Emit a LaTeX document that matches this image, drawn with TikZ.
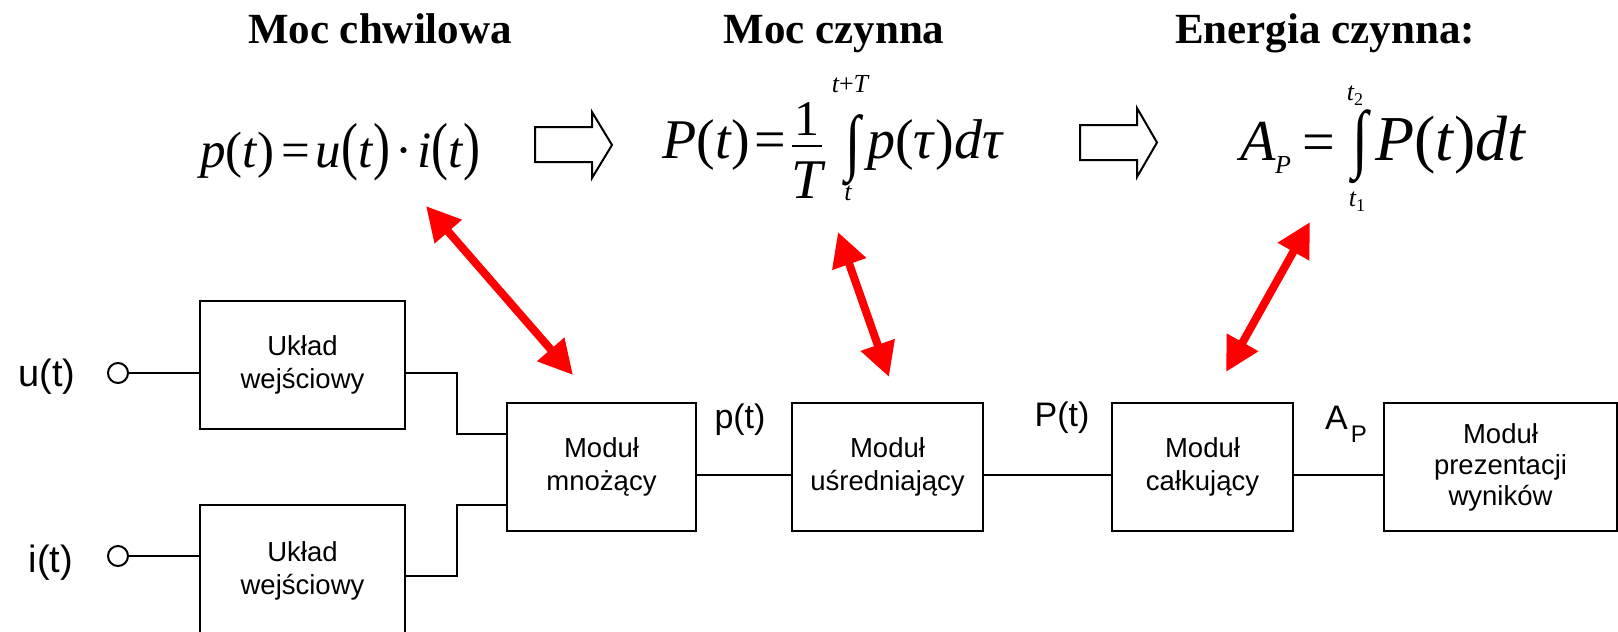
\documentclass[tikz,border=0pt]{standalone}
\usepackage{fontspec}
\usepackage{graphicx}
\setmainfont{Liberation Serif}
\newfontfamily\arial{Liberation Sans}
\usetikzlibrary{arrows.meta}
\newcommand\setfs[1]{\fontsize{#1}{#1}\selectfont}
\newcommand\vstretch[2]{\scalebox{1}[#1]{#2}}
\begin{document}
\begin{tikzpicture}[x=1pt,y=-1pt,
  blk/.style={draw,line width=2pt,inner sep=0pt,align=center,font=\arial\fontsize{27.5}{33}\selectfont},
  wire/.style={line width=2pt},
  term/.style={circle,draw,line width=2pt,minimum size=20pt,inner sep=0pt,fill=white},
  sig/.style={font=\arial\setfs{34},inner sep=0pt},
  ttl/.style={font=\bfseries\setfs{43},inner sep=0pt,anchor=base},
  eq/.style={inner sep=0pt,anchor=base west},
  lim/.style={inner sep=0pt,font=\itshape\setfs{26}},
  link/.style={red,line width=8pt,{Triangle[length=34pt,width=34pt]}-{Triangle[length=34pt,width=34pt]}},
  hollow/.style={draw,line width=2pt,line join=miter}
]
\path[use as bounding box] (0,0) rectangle (1618,632);
\clip (0,0) rectangle (1618,632);

% titles
\node[ttl] (t1) at (380,43) {Moc chwilowa};
\node[ttl] (t2) at (834,43) {Moc czynna};
\node[ttl] (t3) at (1325,43) {Energia czynna:};

% formula 1
\node[eq,font=\setfs{51}] (f1) at (200,167) {\textit{p}(\textit{t})\hspace{7pt}=\hspace{5pt}\textit{u}\vstretch{1.25}{(}\textit{t}\vstretch{1.25}{)}\hspace{5pt}·\hspace{5pt}\textit{i}\vstretch{1.25}{(}\textit{t}\vstretch{1.25}{)}};

% formula 2
\node[eq,font=\setfs{56}] (f2a) at (662,158) {\textit{P}(\textit{t})\hspace{4pt}=};
\node[inner sep=0pt,anchor=base,font=\setfs{50}] (f2n) at (807,135) {1};
\node[inner sep=0pt,anchor=base,font=\itshape\setfs{56}] (f2d) at (807,198) {T};
\draw[line width=2.5pt] (792,146) -- (822,146);
\node[inner sep=0pt,font=\setfs{56}] (f2i) at (853,150) {\vstretch{1.3}{∫}};
\node[lim] (f2u) at (850,84) {t\upshape+\itshape T};
\node[lim] (f2l) at (848,193) {t};
\node[eq,font=\setfs{56}] (f2b) at (867,158) {\textit{p}(\textit{τ})\textit{dτ}};

% formula 3
\node[eq,font=\itshape\setfs{58}] (f3a) at (1240,160) {A};
\node[inner sep=0pt,anchor=base west,font=\itshape\setfs{26}] (f3s) at (1275,173) {P};
\node[inner sep=0pt,font=\setfs{58}] (f3e) at (1319,148) {=};
\node[inner sep=0pt,font=\setfs{58}] (f3i) at (1360,147) {\vstretch{1.3}{∫}};
\node[lim] (f3u) at (1355,96) {t\raisebox{-5pt}{\setfs{18}\upshape 2}};
\node[lim] (f3l) at (1357,202) {t\raisebox{-5pt}{\setfs{18}\upshape 1}};
\node[eq,font=\setfs{64}] (f3b) at (1375,160) {\textit{P}(\textit{t})\textit{dt}};

% hollow arrows
\path[hollow] (535,127) -- (592,127) -- (592,112) -- (612,145) -- (592,178) -- (592,162) -- (535,162) -- cycle;
\path[hollow] (1080,125) -- (1137,125) -- (1137,108) -- (1157,142.5) -- (1137,177) -- (1137,160) -- (1080,160) -- cycle;

% blocks
\node[blk,minimum width=205pt,minimum height=128pt] (in1) at (302.5,365) {Układ\\wejściowy};
\node[blk,minimum width=205pt,minimum height=132pt] (in2) at (302.5,571) {Układ\\wejściowy};
\node[blk,minimum width=189pt,minimum height=128pt] (mul) at (601.5,467) {Moduł\\mnożący};
\node[blk,minimum width=191pt,minimum height=128pt] (avg) at (887.5,467) {Moduł\\uśredniający};
\node[blk,minimum width=181pt,minimum height=128pt] (int) at (1202.5,467) {Moduł\\całkujący};
\node[blk,minimum width=233pt,minimum height=128pt,font=\arial\fontsize{27.5}{31}\selectfont] (pres) at (1500.5,467) {Moduł\\prezentacji\\wyników};

% terminals
\node[term] (uc) at (118,373) {};
\node[term] (ic) at (118,556) {};
\node[font=\arial\setfs{38},inner sep=0pt] (ul) at (47,377) {u(t)};
\node[font=\arial\setfs{38},inner sep=0pt] (il) at (51,563) {i(t)};

% wires
\draw[wire] (uc.east) -- (uc -| in1.west);
\draw[wire] (ic.east) -- (ic -| in2.west);
\draw[wire] (uc -| in1.east) -- ++(51,0) |- ([yshift=33pt]mul.west);
\draw[wire] ([yshift=-5pt]in2.east) -- ++(51,0) |- ([yshift=-38pt]mul.west);
\draw[wire] ([yshift=-8pt]mul.east) -- ([yshift=-8pt]avg.west);
\draw[wire] ([yshift=-8pt]avg.east) -- ([yshift=-8pt]int.west);
\draw[wire] ([yshift=-8pt]int.east) -- ([yshift=-8pt]pres.west);

% signal labels
\node[sig] (pl) at (740,420) {p(t)};
\node[sig] (Pl) at (1062,418) {P(t)};
\node[sig,anchor=base west] (al) at (1325,429) {A\hspace{3pt}\raisebox{-13pt}{\setfs{24}P}};

% red links
\coordinate (a1) at (426,206); \coordinate (b1) at (573,375);
\coordinate (a2) at (838,232); \coordinate (b2) at (889,377);
\coordinate (a3) at (1310,222); \coordinate (b3) at (1226,372);
\draw[link] (a1) -- (b1);
\draw[link] (a2) -- (b2);
\draw[link] (a3) -- (b3);
\end{tikzpicture}
\end{document}
